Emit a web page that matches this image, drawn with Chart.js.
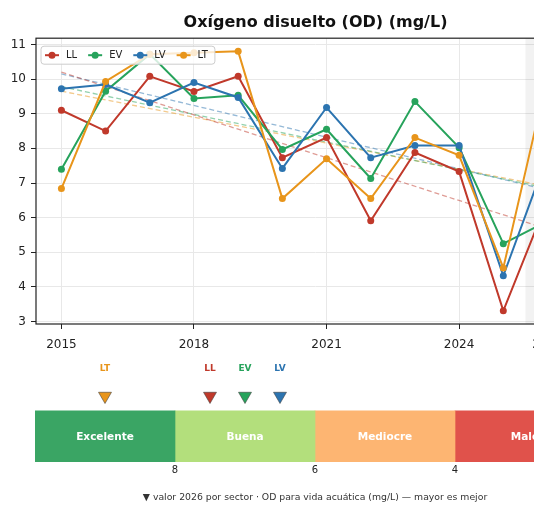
<!DOCTYPE html>
<html lang="es">
<head>
  <meta charset="UTF-8">
  <title>Oxígeno disuelto (OD)</title>
  <script src="https://cdn.jsdelivr.net/npm/chart.js"></script>
  <style>
    html, body {
      margin: 0;
      padding: 0;
      background: #fff;
      overflow: hidden;
    }
    body {
      width: 534px;
      height: 508px;
      font-family: "DejaVu Sans", sans-serif;
    }
    #wrap {
      position: relative;
      width: 630px;
      height: 508px;
    }
    #lineBox {
      position: absolute;
      left: 0;
      top: 0;
      width: 630px;
      height: 350px;
    }
    #gaugeBox {
      position: absolute;
      left: 0;
      top: 345px;
      width: 630px;
      height: 140px;
    }
    #note {
      position: absolute;
      left: 0;
      top: 491px;
      width: 630px;
      text-align: center;
      font-size: 9.3px;
      color: #333;
    }
  </style>
</head>
<body>
<div id="wrap">
  <div id="lineBox"><canvas id="lineChart"></canvas></div>
  <div id="gaugeBox"><canvas id="gaugeChart"></canvas></div>
  <div id="note">▼ valor 2026 por sector · OD para vida acuática (mg/L) — mayor es mejor</div>
</div>

<script>
// --- data ---
const YEARS = [2015, 2016, 2017, 2018, 2019, 2020, 2021, 2022, 2023, 2024, 2025, 2026];
const SECTORS = ['LL', 'EV', 'LV', 'LT'];
const COLORS = ['#c0392b', '#27a35c', '#2c74b0', '#e8951b'];

const OD_LL = [9.1, 8.5, 10.08, 9.64, 10.08, 7.73, 8.31, 5.91, 7.88, 7.33, 3.31, 6.5];
const OD_EV = [7.4, 9.65, 10.72, 9.44, 9.53, 7.97, 8.55, 7.13, 9.35, 8.02, 5.25, 5.9];
const OD_LV = [9.72, 9.84, 9.32, 9.9, 9.47, 7.42, 9.18, 7.73, 8.08, 8.08, 4.32, 7.8];
const OD_LT = [6.84, 9.93, 10.72, 10.76, 10.8, 6.55, 7.7, 6.55, 8.31, 7.8, 4.55, 10.1];

// dashed trend lines (start / end value)
const TREND_YEARS = [2015, 2026];
const TREND_LL = [10.2, 5.67];
const TREND_EV = [9.78, 6.85];
const TREND_LV = [10.15, 6.8];
const TREND_LT = [9.65, 6.9];

const X_TICKS = [2015, 2018, 2021, 2024, 2026];
const Y_TICKS = [3, 4, 5, 6, 7, 8, 9, 10, 11];
const HIGHLIGHT_FROM = 2025.5;
const HIGHLIGHT_TO = 2026.5;

// quality bands + 2026 markers
const BAND_LABELS = ['Excelente', 'Buena', 'Mediocre', 'Malo'];
const BAND_FROM = [10, 8, 6, 4];
const BAND_TO = [8, 6, 4, 2];
const BAND_COLORS = ['#3aa564', '#b3df7c', '#fdb572', '#e0524b'];
const GAUGE_TICKS = [8, 6, 4];
const MARK_VALUES = [7.5, 7.0, 6.5, 9.0];

Chart.defaults.font.family = '"DejaVu Sans", sans-serif';
Chart.defaults.color = '#222';

const SERIES = [OD_LL, OD_EV, OD_LV, OD_LT];
const TRENDS = [TREND_LL, TREND_EV, TREND_LV, TREND_LT];

function fade(hex, a) {
  const n = parseInt(hex.slice(1), 16);
  return `rgba(${n >> 16}, ${(n >> 8) & 255}, ${n & 255}, ${a})`;
}

const lineSets = SECTORS.map((s, i) => ({
  label: s,
  data: YEARS.map((y, k) => ({ x: y, y: SERIES[i][k] })),
  borderColor: COLORS[i],
  backgroundColor: COLORS[i],
  borderWidth: 2,
  pointRadius: 3.5,
  pointBorderWidth: 0,
  tension: 0,
  order: 4 - i
}));

const trendSets = SECTORS.map((s, i) => ({
  label: s + ' tendencia',
  data: TREND_YEARS.map((y, k) => ({ x: y, y: TRENDS[i][k] })),
  borderColor: fade(COLORS[i], 0.5),
  borderWidth: 1.3,
  borderDash: [5, 3],
  pointRadius: 0,
  order: 10
}));

const spanPlugin = {
  id: 'span2026',
  beforeDatasetsDraw(chart) {
    const { ctx, chartArea: a, scales: { x } } = chart;
    const x0 = x.getPixelForValue(HIGHLIGHT_FROM);
    const x1 = x.getPixelForValue(HIGHLIGHT_TO);
    ctx.save();
    ctx.fillStyle = 'rgba(0,0,0,0.05)';
    ctx.fillRect(x0, a.top, x1 - x0, a.bottom - a.top);
    ctx.restore();
  }
};

const framePlugin = {
  id: 'frame',
  afterDraw(chart) {
    const { ctx, chartArea: a } = chart;
    ctx.save();
    ctx.strokeStyle = '#222';
    ctx.lineWidth = 1.2;
    ctx.strokeRect(a.left, a.top, a.right - a.left, a.bottom - a.top);
    ctx.restore();
  }
};

const legendPlugin = {
  id: 'boxLegend',
  afterDatasetsDraw(chart) {
    const { ctx, chartArea: a } = chart;
    const sets = chart.data.datasets.slice(0, SECTORS.length);
    ctx.save();
    ctx.font = '10px "DejaVu Sans", sans-serif';
    const left = a.left + 5, top = a.top + 8, h = 18;
    let w = 4;
    sets.forEach(d => { w += 22 + ctx.measureText(d.label).width + 10; });
    w -= 4;
    ctx.fillStyle = 'rgba(255,255,255,0.8)';
    ctx.strokeStyle = '#cccccc';
    ctx.lineWidth = 1;
    ctx.beginPath();
    ctx.roundRect(left, top, w, h, 3);
    ctx.fill();
    ctx.stroke();
    let x = left + 4;
    const cy = top + h / 2;
    sets.forEach(d => {
      ctx.strokeStyle = d.borderColor;
      ctx.fillStyle = d.borderColor;
      ctx.lineWidth = 2;
      ctx.beginPath();
      ctx.moveTo(x, cy);
      ctx.lineTo(x + 14, cy);
      ctx.stroke();
      ctx.beginPath();
      ctx.arc(x + 7, cy, 3.5, 0, Math.PI * 2);
      ctx.fill();
      ctx.fillStyle = '#222';
      ctx.textBaseline = 'middle';
      ctx.fillText(d.label, x + 21, cy + 0.5);
      x += 22 + ctx.measureText(d.label).width + 10;
    });
    ctx.restore();
  }
};

new Chart(document.getElementById('lineChart'), {
  type: 'line',
  data: { datasets: [...lineSets, ...trendSets] },
  options: {
    responsive: true,
    maintainAspectRatio: false,
    animation: false,
    layout: { padding: { left: 0, right: 35, top: 0, bottom: 0 } },
    plugins: {
      legend: { display: false },
      tooltip: { enabled: false },
      title: {
        display: true,
        fullSize: false,
        text: 'Oxígeno disuelto (OD) (mg/L)',
        color: '#111',
        font: { size: 16, weight: 'bold' },
        padding: { top: 13, bottom: 6 }
      }
    },
    scales: {
      x: {
        type: 'linear',
        min: 2014.425,
        max: 2027.075,
        afterBuildTicks: s => { s.ticks = X_TICKS.map(v => ({ value: v })); },
        afterFit: s => { s.height = 26; },
        ticks: { callback: v => String(v), font: { size: 12 }, padding: 9, maxRotation: 0 },
        grid: { color: '#e8e8e8', tickColor: '#222', tickLength: 5 },
        border: { display: false }
      },
      y: {
        min: 2.93,
        max: 11.18,
        afterBuildTicks: s => { s.ticks = Y_TICKS.map(v => ({ value: v })); },
        afterFit: s => { s.width = 36; },
        ticks: { font: { size: 12 }, padding: 5 },
        grid: { color: '#e8e8e8', tickColor: '#222', tickLength: 5 },
        border: { display: false }
      }
    }
  },
  plugins: [spanPlugin, framePlugin, legendPlugin]
});

// --- gauge with 2026 markers ---
const BAR_Y = 0.232;
const MARK_Y = 0.607;

const bandSets = BAND_LABELS.map((b, i) => ({
  type: 'bar',
  label: b,
  indexAxis: 'y',
  data: [{ x: [BAND_TO[i], BAND_FROM[i]], y: BAR_Y }],
  backgroundColor: BAND_COLORS[i],
  borderWidth: 0,
  grouped: false,
  barThickness: 52
}));

const markSet = {
  type: 'scatter',
  label: 'valor 2026',
  indexAxis: 'x',
  data: MARK_VALUES.map(v => ({ x: v, y: MARK_Y })),
  pointStyle: 'triangle',
  rotation: 180,
  pointRadius: 7.5,
  pointBackgroundColor: COLORS,
  pointBorderColor: 'rgba(60,60,60,0.7)',
  pointBorderWidth: 0.8
};

const gaugeText = {
  id: 'gaugeText',
  afterDatasetsDraw(chart) {
    const { ctx } = chart;
    ctx.save();
    ctx.textAlign = 'center';
    ctx.textBaseline = 'middle';
    ctx.font = 'bold 10.5px "DejaVu Sans", sans-serif';
    ctx.fillStyle = '#ffffff';
    BAND_LABELS.forEach((b, i) => {
      const p = chart.getDatasetMeta(i).data[0].getCenterPoint();
      ctx.fillText(b, p.x, p.y);
    });
    const pts = chart.getDatasetMeta(BAND_LABELS.length).data;
    ctx.font = 'bold 9px "DejaVu Sans", sans-serif';
    SECTORS.forEach((s, i) => {
      ctx.fillStyle = COLORS[i];
      ctx.fillText(s, pts[i].x, pts[i].y - 27);
    });
    ctx.restore();
  }
};

new Chart(document.getElementById('gaugeChart'), {
  type: 'bar',
  data: { datasets: [...bandSets, markSet] },
  options: {
    responsive: true,
    maintainAspectRatio: false,
    animation: false,
    indexAxis: 'y',
    layout: { padding: { left: 35, right: 35, top: 5, bottom: 0 } },
    plugins: { legend: { display: false }, tooltip: { enabled: false } },
    scales: {
      x: {
        type: 'linear',
        reverse: true,
        min: 2,
        max: 10,
        beginAtZero: false,
        afterBuildTicks: s => { s.ticks = GAUGE_TICKS.map(v => ({ value: v })); },
        afterFit: s => { s.height = 23; },
        ticks: { font: { size: 10 }, padding: 2 },
        grid: { display: false, drawTicks: false },
        border: { display: false }
      },
      y: {
        type: 'linear',
        min: 0,
        max: 1,
        offset: false,
        display: false
      }
    }
  },
  plugins: [gaugeText]
});
</script>
</body>
</html>
